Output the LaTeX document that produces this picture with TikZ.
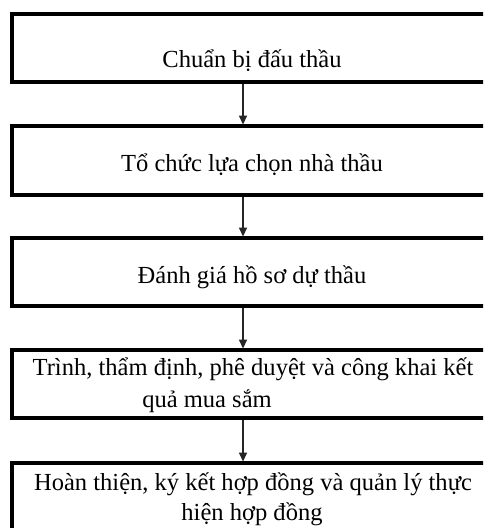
\documentclass[tikz,border=0pt]{standalone}
\usepackage{fontspec}
\setmainfont{Liberation Serif}
\usetikzlibrary{arrows.meta}
\begin{document}
\begin{tikzpicture}[x=0.75pt,y=-0.75pt,
  boxline/.style={draw=black, line width=2.4pt, rectangle, inner sep=0pt, minimum width=478*0.75pt},
  flow/.style={draw=black!85, line width=1.1pt, -{Triangle[length=6.5pt,width=6pt]}},
  lbl/.style={anchor=base, inner sep=0pt, font=\fontsize{18.4}{22}\selectfont, text=black}]
\useasboundingbox (0,0) rectangle (483,528);
\clip (0,0) rectangle (483,528);
\fill[white] (0,0) rectangle (483,528);
% boxes
\node[boxline, minimum height=68*0.75pt] (b1) at (251,48) {};
\node[boxline, minimum height=69*0.75pt] (b2) at (251,160.5) {};
\node[boxline, minimum height=68*0.75pt] (b3) at (251,272) {};
\node[boxline, minimum height=68*0.75pt] (b4) at (251,384) {};
\node[boxline, minimum height=77*0.75pt] (b5) at (251,501.5) {};
% texts
\node[lbl] (t1) at (252,68) {Chuẩn bị đấu thầu};
\node[lbl] (t2) at (252,171) {Tổ chức lựa chọn nhà thầu};
\node[lbl] (t3) at (252,283) {Đánh giá hồ sơ dự thầu};
\node[lbl] (t4a) at (253,375) {Trình, thẩm định, phê duyệt và công khai kết};
\node[lbl] (t4b) at (207,407) {quả mua sắm};
\node[lbl] (t5a) at (253,490) {Hoàn thiện, ký kết hợp đồng và quản lý thực};
\node[lbl] (t5b) at (252,520) {hiện hợp đồng};
% connectors
\coordinate (ax) at (243,0);
\draw[flow] (b1.south -| ax) -- (b2.north -| ax);
\draw[flow] (b2.south -| ax) -- (b3.north -| ax);
\draw[flow] (b3.south -| ax) -- (b4.north -| ax);
\draw[flow] (b4.south -| ax) -- (b5.north -| ax);
\end{tikzpicture}
\end{document}
